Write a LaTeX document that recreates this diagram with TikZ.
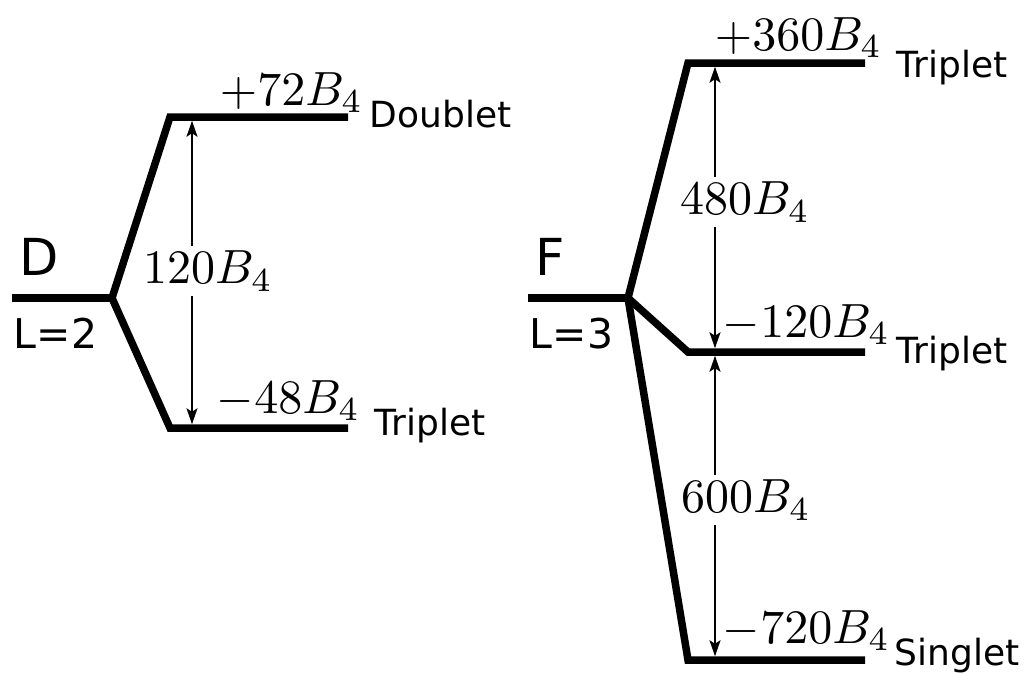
\documentclass[tikz,border=0pt]{standalone}
\usepackage{fontspec}
\newfontfamily\dejavu{DejaVu Sans}
\usetikzlibrary{arrows.meta}

\begin{document}
\begin{tikzpicture}[x=1pt,y=-1pt,
  lvl/.style={line width=7.5pt,line join=miter},
  gap/.style={{Stealth[length=16pt,width=11pt,inset=3.5pt]}-{Stealth[length=16pt,width=11pt,inset=3.5pt]},
              line width=1.6pt,shorten <=3.75pt,shorten >=3.75pt},
  en/.style={anchor=base west,inner sep=0pt,scale=4.8},
  sp/.style={anchor=base west,inner sep=0pt,font=\dejavu,scale=3.6},
  term/.style={anchor=base west,inner sep=0pt,font=\dejavu,scale=5.1},
  lq/.style={anchor=base west,inner sep=0pt,font=\dejavu,scale=4.1},
  mid/.style={fill=white,inner sep=1pt,scale=4.8}]
\useasboundingbox (0,0) rectangle (1029,675);
% D term, L=2
\coordinate (d0) at (12,298);
\coordinate (dv) at (112,298);
\coordinate (dt) at (170,117);
\coordinate (dte) at (348,117);
\coordinate (db) at (170,428);
\coordinate (dbe) at (348,428);
\draw[lvl] (d0) -- (dv);
\draw[lvl] (dte) -- (dt) -- (dv) -- (db) -- (dbe);
\coordinate (da) at (192,117);
\coordinate (dz) at (192,428);
\draw[gap] (da) -- (dz);
\node[mid] (dsplit) at (208,271) {$120B_4$};
\node[term] (dname) at (18,275) {D};
\node[lq] (dl) at (13,348) {L=2};
\node[en] (dup) at (219,105) {$+72B_4$};
\node[en] (ddn) at (216,413) {$-48B_4$};
\node[sp] (dupn) at (369,127) {Doublet};
\node[sp] (ddnn) at (374,435) {Triplet};
% F term, L=3
\coordinate (f0) at (528,298);
\coordinate (fv) at (628,298);
\coordinate (ft) at (688,63);
\coordinate (fte) at (865,63);
\coordinate (fm) at (688,352);
\coordinate (fme) at (865,352);
\coordinate (fb) at (688,660);
\coordinate (fbe) at (865,660);
\draw[lvl] (f0) -- (fv);
\draw[lvl] (fte) -- (ft) -- (fv) -- (fb) -- (fbe);
\draw[lvl] (fv) -- (fm) -- (fme);
\coordinate (fa) at (715,63);
\coordinate (fb1) at (715,352);
\coordinate (fz) at (715,660);
\draw[gap] (fa) -- (fb1);
\draw[gap] (fb1) -- (fz);
\node[mid] (fsplit1) at (745,202) {$480B_4$};
\node[mid] (fsplit2) at (746,500) {$600B_4$};
\node[term] (fname) at (534,275) {F};
\node[lq] (fl) at (529,348) {L=3};
\node[en] (fup) at (714,50) {$+360B_4$};
\node[en] (fmd) at (722,337) {$-120B_4$};
\node[en] (fdn) at (722,643) {$-720B_4$};
\node[sp] (fupn) at (896,77) {Triplet};
\node[sp] (fmdn) at (896,363) {Triplet};
\node[sp] (fdnn) at (894,665) {Singlet};
\end{tikzpicture}
\end{document}
